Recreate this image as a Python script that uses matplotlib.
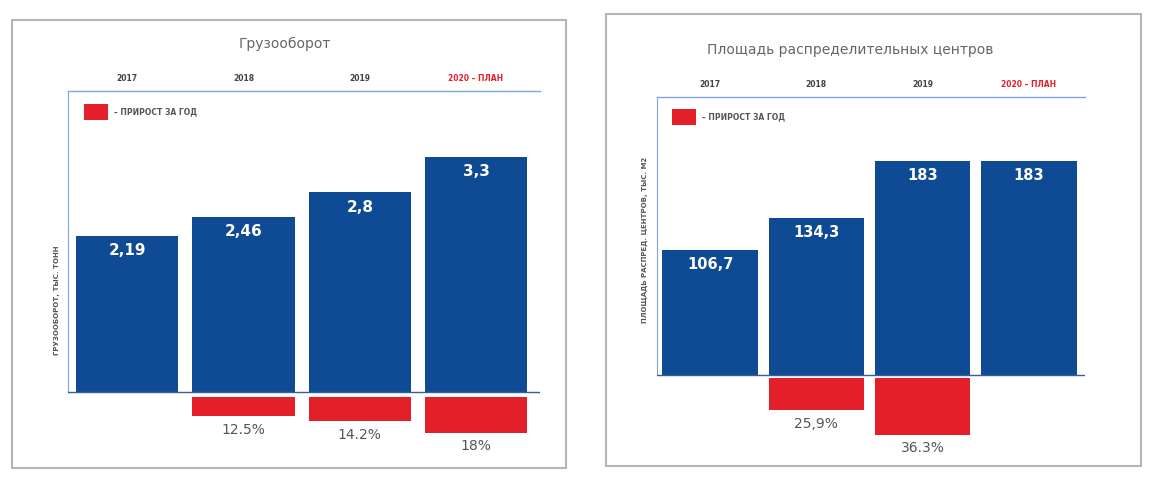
import matplotlib
matplotlib.use("Agg")
import matplotlib.pyplot as plt
from matplotlib.patches import Rectangle

# ---------------- data ----------------
years = ["2017", "2018", "2019", "2020 – ПЛАН"]

cargo_values = [2.19, 2.46, 2.8, 3.3]
cargo_labels = ["2,19", "2,46", "2,8", "3,3"]
cargo_growth = ["", "12.5%", "14.2%", "18%"]

area_values = [106.7, 134.3, 183, 183]
area_labels = ["106,7", "134,3", "183", "183"]
area_growth = ["", "25,9%", "36.3%", ""]

left_title = "Грузооборот"
right_title = "Площадь распределительных центров"
left_ylabel = "ГРУЗООБОРОТ, ТЫС. ТОНН"
right_ylabel = "ПЛОЩАДЬ РАСПРЕД. ЦЕНТРОВ, ТЫС. М2"
legend_text = "– ПРИРОСТ ЗА ГОД"

# ---------------- style ----------------
BLUE = "#0f4b95"
RED = "#e3202a"
TOPLINE = "#7aa6dc"
BASELINE = "#3a5c94"
GREY = "#555555"

W, H = 1173, 480
fig = plt.figure(figsize=(W / 100, H / 100), dpi=100)
fig.patch.set_facecolor("white")


def px_axes(x0, y0, x1, y1):
    """axes from pixel box (top-left origin)"""
    ax = fig.add_axes([x0 / W, (H - y1) / H, (x1 - x0) / W, (y1 - y0) / H])
    ax.set_zorder(2)
    return ax


# card backgrounds (decorative)
for (cx0, cy0, cx1, cy1) in [(12, 20, 566, 468), (606, 14, 1141, 466)]:
    fig.patches.append(Rectangle((cx0 / W, (H - cy1) / H), (cx1 - cx0) / W, (cy1 - cy0) / H,
                                 transform=fig.transFigure, facecolor="white",
                                 edgecolor="#b5b5b5", linewidth=1.5, zorder=-5))


def draw_chart(box, values, vlabels, growth, xlim, ylim, width, gap,
               title, title_xy, ylabel, ylabel_xy, legend_xy, val_fs):
    ax = px_axes(*box)
    ax.set_facecolor("none")
    x = list(range(len(values)))
    # main bars
    ax.bar(x, values, width=width, bottom=0, color=BLUE, zorder=2)
    # growth bars (absolute increase drawn below the baseline)
    diffs = [0] + [values[i] - values[i - 1] for i in range(1, len(values))]
    for i, d in enumerate(diffs):
        if d > 0:
            ax.bar(i, -d, width=width, bottom=-gap, color=RED, zorder=2)
    # value labels
    span = ylim[1] - ylim[0]
    for i, (v, lab) in enumerate(zip(values, vlabels)):
        ax.text(i, v - span * 0.04, lab, ha="center", va="center", color="white",
                fontsize=val_fs, fontweight="bold", zorder=3)
    for i, (d, g) in enumerate(zip(diffs, growth)):
        if g:
            ax.text(i, -gap - d - span * 0.037, g, ha="center", va="center",
                    color=GREY, fontsize=10, zorder=3)
    ax.set_xlim(*xlim)
    ax.set_ylim(*ylim)
    ax.axhline(0, color=BASELINE, lw=1.0, zorder=4)
    for s in ["right", "bottom"]:
        ax.spines[s].set_visible(False)
    ax.spines["top"].set_color(TOPLINE)
    ax.spines["top"].set_linewidth(1.0)
    ax.spines["left"].set_color(TOPLINE)
    ax.spines["left"].set_linewidth(0.8)
    ax.spines["left"].set_bounds(0, ylim[1])
    ax.set_yticks([])
    ax.xaxis.tick_top()
    ax.set_xticks(x)
    ax.set_xticklabels(years, fontsize=5.5, fontweight="bold")
    ax.tick_params(axis="x", length=0, pad=6)
    for t, lab in zip(ax.get_xticklabels(), years):
        t.set_color(RED if "ПЛАН" in lab else "#444444")
    # title and y label
    fig.text(title_xy[0] / W, 1 - title_xy[1] / H, title, ha="center", va="center",
             fontsize=10, color="#666666")
    fig.text(ylabel_xy[0] / W, 1 - ylabel_xy[1] / H, ylabel, rotation=90, ha="center",
             va="center", fontsize=5, color="#555555", fontweight="bold")
    # legend
    lx, ly = legend_xy
    fig.patches.append(Rectangle((lx / W, 1 - (ly + 8) / H), 24 / W, 16 / H,
                                 transform=fig.transFigure, facecolor=RED,
                                 edgecolor="none", zorder=5))
    fig.text((lx + 30) / W, 1 - ly / H, legend_text, ha="left", va="center",
             fontsize=5.5, color="#555555", fontweight="bold")
    return ax


# left chart: baseline at 392 px, ~71 px per unit
draw_chart(box=(68, 91, 540, 462), values=cargo_values, vlabels=cargo_labels,
           growth=cargo_growth, xlim=(-0.51, 3.55), ylim=(-0.98, 4.22),
           width=0.88, gap=0.07, title=left_title, title_xy=(285, 44),
           ylabel=left_ylabel, ylabel_xy=(57, 300), legend_xy=(84, 112), val_fs=11)

# right chart: baseline at 375 px, ~1.17 px per unit
draw_chart(box=(657, 97, 1085, 462), values=area_values, vlabels=area_labels,
           growth=area_growth, xlim=(-0.5, 3.53), ylim=(-74.4, 237.6),
           width=0.9, gap=2.5, title=right_title, title_xy=(850, 50),
           ylabel=right_ylabel, ylabel_xy=(645, 240), legend_xy=(672, 117), val_fs=10.5)

fig.savefig("out.png", dpi=100, facecolor="white")
